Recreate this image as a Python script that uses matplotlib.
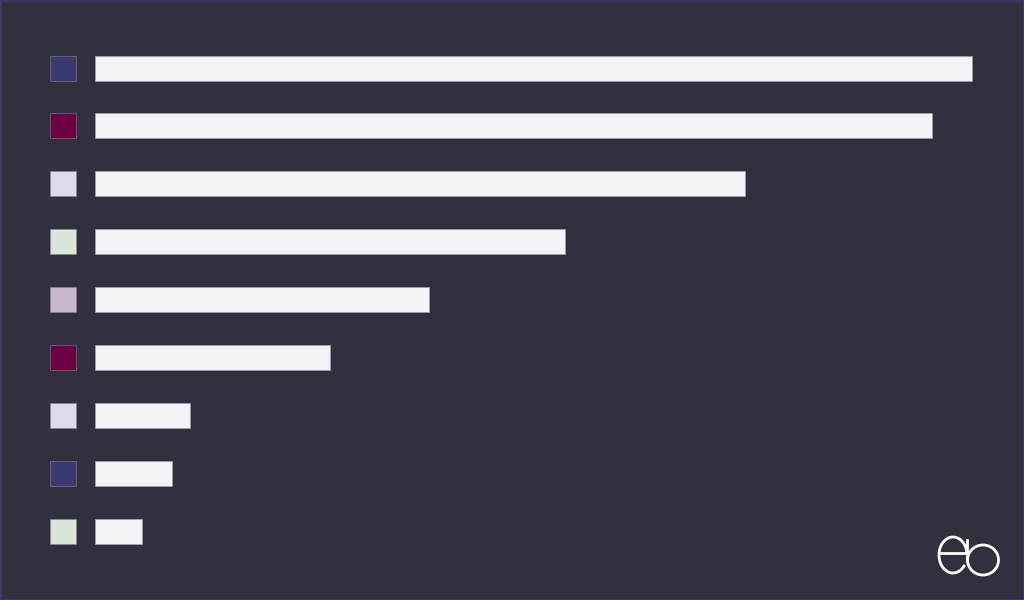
import matplotlib
matplotlib.use("Agg")
import matplotlib.pyplot as plt
from matplotlib.patches import Arc, Rectangle

# bar lengths, top to bottom
values = [877, 837, 650, 470, 334, 235, 95, 77, 47]
swatch_colors = ["#3c3870", "#6b0042", "#dcdce8", "#dce6d8", "#c8b8cc",
                 "#6b0042", "#dcdce8", "#3c3870", "#dce6d8"]

bg = "#32303f"
bar_color = "#f4f4f8"

fig = plt.figure(figsize=(10.24, 6.0), dpi=100, facecolor=bg)
ax = fig.add_axes([0, 0, 1, 1])
ax.set_facecolor(bg)

pos = list(range(len(values)))
step = (531 - 68) / 8
h = 25 / step
ax.barh(pos, values, left=0, height=h, color=bar_color,
        edgecolor="#a09cae", linewidth=0.6)
ax.barh(pos, [26] * len(values), left=-45, height=h, color=swatch_colors,
        edgecolor="#8a8698", linewidth=0.4)

ax.set_xlim(-95, 1024 - 95)
ax.set_ylim(8 + (600 - 531) / step, -68 / step)
ax.axis("off")

# logo "eb" in pixel coords
lg = fig.add_axes([0, 0, 1, 1], facecolor="none")
lg.set_xlim(0, 1024)
lg.set_ylim(600, 0)
lg.axis("off")
lw = 2.0
lg.add_patch(Arc((953, 555), 28, 36, theta1=40, theta2=360, color="white", lw=lw))
lg.plot([939, 967], [553, 553], color="white", lw=lw)
lg.add_patch(Arc((983, 560), 31, 30, color="white", lw=lw))
lg.plot([967, 967], [540, 561], color="white", lw=lw)

# thin border
lg.add_patch(Rectangle((0.5, 0.5), 1023, 599, fill=False, edgecolor="#3f3c6e", lw=1.2))

fig.savefig("out.png", dpi=100, facecolor=bg)
